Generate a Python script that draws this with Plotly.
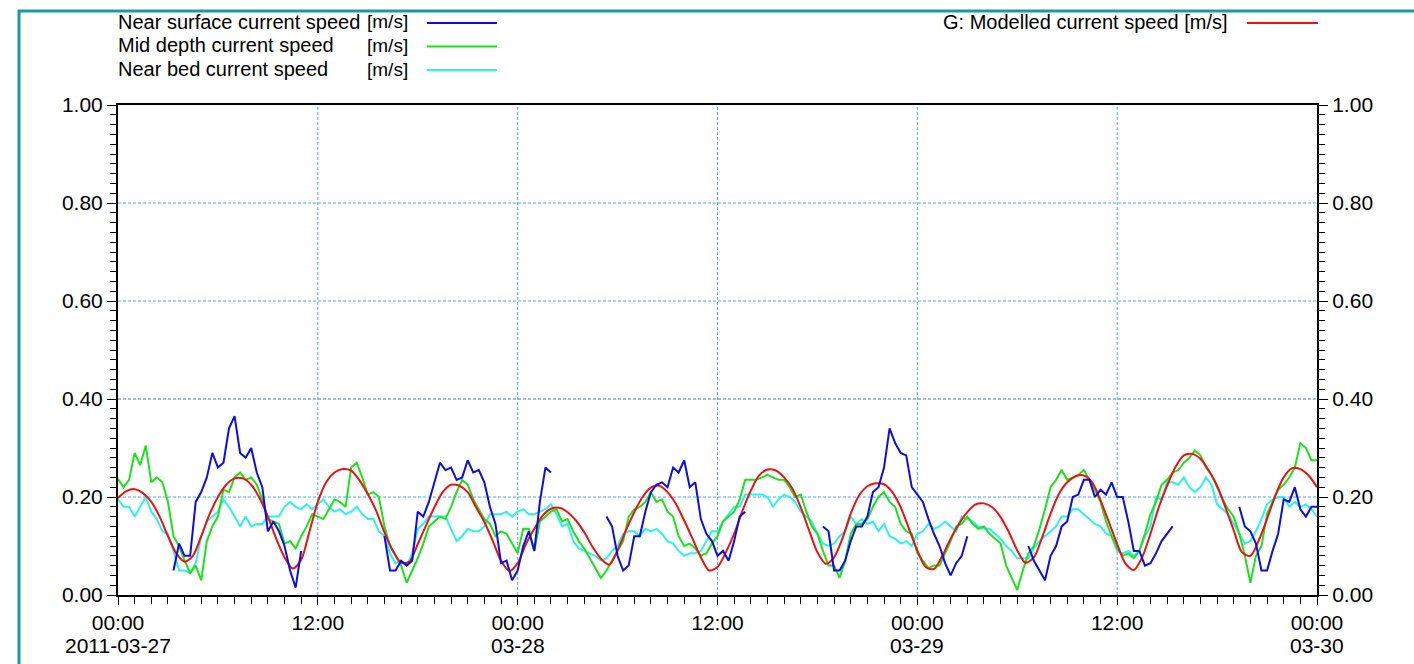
import pandas as pd
import plotly.graph_objects as go

# ---------------------------------------------------------------------------
# Data: current speeds [m/s], 2011-03-27 00:00 .. 2011-03-30 00:00
# Measured series every 20 minutes, modelled series every 30 minutes.
# ---------------------------------------------------------------------------
START = "2011-03-27 00:00"
END = "2011-03-30 00:00"

near_surface = (
    [None] * 10 + [0.05, 0.105]
    + [0.08, 0.08, 0.19, 0.21, 0.24, 0.29, 0.26, 0.27, 0.34, 0.365, 0.29, 0.28]
    + [0.30, 0.25, 0.22, 0.13, 0.15, 0.13, 0.10, 0.05, 0.015, 0.09, None, None]
    + [None] * 12
    + [0.12, 0.05, 0.05, 0.07, 0.06, 0.07, 0.17, 0.16, 0.19, 0.23, 0.27, 0.255]
    + [0.26, 0.235, 0.24, 0.275, 0.25, 0.255, 0.23, 0.18, 0.145, 0.065, 0.07, 0.03]
    + [0.05, 0.10, 0.13, 0.09, 0.19, 0.26, 0.25] + [None] * 5
    + [None] * 4 + [0.16, 0.14, 0.08, 0.05, 0.06, 0.12, 0.12, 0.17]
    + [0.21, 0.225, 0.23, 0.22, 0.26, 0.25, 0.275, 0.22, 0.23, 0.155, 0.125, 0.11]
    + [0.08, 0.09, 0.07, 0.11, 0.16, 0.17] + [None] * 6
    + [None] * 7 + [0.14, 0.13, 0.05, 0.05, 0.07]
    + [0.11, 0.14, 0.14, 0.16, 0.21, 0.22, 0.26, 0.34, 0.31, 0.29, 0.285, 0.22]
    + [0.205, 0.19, 0.155, 0.125, 0.10, 0.065, 0.04, 0.065, 0.08, 0.12, None, None]
    + [None] * 8 + [0.10, 0.07, 0.05, 0.03]
    + [0.08, 0.10, 0.14, 0.15, 0.20, 0.205, 0.235, 0.235, 0.20, 0.215, 0.205, 0.23]
    + [0.20, 0.20, 0.15, 0.09, 0.09, 0.06, 0.065, 0.085, 0.11, 0.125, 0.14, None]
    + [None] * 10 + [0.18, 0.14]
    + [0.13, 0.105, 0.05, 0.05, 0.09, 0.125, 0.195, 0.19, 0.22, 0.175, 0.16, 0.18]
    + [0.18]
)

mid_depth = [
    0.237, 0.22, 0.235, 0.29, 0.265, 0.305, 0.23, 0.24, 0.23, 0.19, 0.12, 0.10,
    0.07, 0.045, 0.06, 0.03, 0.11, 0.14, 0.16, 0.215, 0.21, 0.24, 0.25, 0.235,
    0.24, 0.225, 0.195, 0.155, 0.15, 0.145, 0.105, 0.11, 0.095, 0.12, 0.14, 0.165,
    0.16, 0.155, 0.175, 0.195, 0.19, 0.18, 0.26, 0.27, 0.24, 0.205, 0.21, 0.20,
    0.14, 0.10, 0.08, 0.06, 0.025, 0.05, 0.075, 0.105, 0.14, 0.15, 0.16, 0.155,
    0.18, 0.21, 0.235, 0.225, 0.195, 0.175, 0.155, 0.145, 0.12, 0.13, 0.125, 0.105,
    0.085, 0.135, 0.135, 0.09, 0.15, 0.16, 0.17, 0.175, 0.15, 0.155, 0.13, 0.11,
    0.095, 0.075, 0.055, 0.035, 0.05, 0.07, 0.09, 0.11, 0.16, 0.175, 0.18, 0.19,
    0.21, 0.19, 0.195, 0.17, 0.16, 0.12, 0.10, 0.105, 0.095, 0.08, 0.085, 0.105,
    0.12, 0.15, 0.16, 0.17, 0.195, 0.235, 0.235, 0.235, 0.24, 0.245, 0.24, 0.235,
    0.235, 0.22, 0.20, 0.205, 0.17, 0.14, 0.125, 0.09, 0.06, 0.06, 0.035, 0.07,
    0.125, 0.145, 0.145, 0.155, 0.18, 0.20, 0.21, 0.19, 0.18, 0.145, 0.13, 0.125,
    0.085, 0.07, 0.055, 0.06, 0.06, 0.085, 0.11, 0.14, 0.145, 0.16, 0.145, 0.135,
    0.14, 0.125, 0.115, 0.105, 0.06, 0.035, 0.01, 0.05, 0.085, 0.10, 0.135, 0.175,
    0.22, 0.235, 0.255, 0.235, 0.24, 0.245, 0.255, 0.235, 0.215, 0.19, 0.15, 0.12,
    0.095, 0.08, 0.085, 0.075, 0.09, 0.125, 0.165, 0.19, 0.225, 0.235, 0.25, 0.255,
    0.27, 0.28, 0.295, 0.285, 0.26, 0.245, 0.22, 0.195, 0.175, 0.16, 0.125, 0.08,
    0.025, 0.08, 0.10, 0.165, 0.19, 0.215, 0.225, 0.24, 0.26, 0.31, 0.30, 0.275,
    0.275,
]

near_bed = [
    0.195, 0.18, 0.18, 0.16, 0.18, 0.2, 0.17, 0.155, 0.13, 0.125, 0.09, 0.05,
    0.05, 0.045, 0.065, 0.12, 0.15, 0.16, 0.17, 0.195, 0.18, 0.16, 0.14, 0.16,
    0.14, 0.145, 0.145, 0.16, 0.16, 0.16, 0.18, 0.19, 0.18, 0.175, 0.185, 0.175,
    0.185, 0.195, 0.18, 0.17, 0.175, 0.165, 0.17, 0.18, 0.165, 0.155, 0.155, 0.13,
    0.12, 0.085, 0.065, 0.07, 0.06, 0.085, 0.135, 0.145, 0.16, 0.16, 0.16, 0.16,
    0.135, 0.11, 0.12, 0.135, 0.13, 0.13, 0.14, 0.165, 0.165, 0.165, 0.17, 0.16,
    0.17, 0.175, 0.165, 0.165, 0.17, 0.175, 0.185, 0.165, 0.14, 0.145, 0.11, 0.095,
    0.09, 0.085, 0.08, 0.07, 0.075, 0.09, 0.10, 0.125, 0.13, 0.13, 0.12, 0.135,
    0.13, 0.135, 0.125, 0.11, 0.105, 0.09, 0.08, 0.085, 0.085, 0.09, 0.11, 0.13,
    0.13, 0.15, 0.165, 0.18, 0.18, 0.205, 0.205, 0.205, 0.205, 0.2, 0.18, 0.195,
    0.205, 0.2, 0.19, 0.17, 0.16, 0.15, 0.125, 0.105, 0.10, 0.105, 0.12, 0.13,
    0.16, 0.145, 0.155, 0.145, 0.15, 0.13, 0.145, 0.12, 0.115, 0.105, 0.11, 0.10,
    0.125, 0.13, 0.145, 0.135, 0.14, 0.15, 0.14, 0.13, 0.16, 0.155, 0.15, 0.14,
    0.135, 0.135, 0.125, 0.115, 0.10, 0.09, 0.075, 0.075, 0.075, 0.095, 0.11, 0.12,
    0.13, 0.14, 0.16, 0.16, 0.175, 0.175, 0.165, 0.155, 0.145, 0.14, 0.125, 0.12,
    0.09, 0.085, 0.09, 0.08, 0.09, 0.12, 0.14, 0.2, 0.195, 0.23, 0.23, 0.225,
    0.24, 0.22, 0.21, 0.22, 0.24, 0.225, 0.185, 0.175, 0.165, 0.145, 0.125, 0.105,
    0.11, 0.13, 0.155, 0.185, 0.195, 0.2, 0.2, 0.18, 0.19, 0.18, 0.185, 0.175,
    0.16,
]

modelled = [
    0.198, 0.212, 0.216, 0.208, 0.19, 0.16, 0.12, 0.085,
    0.068, 0.08, 0.12, 0.165, 0.2, 0.225, 0.238, 0.238,
    0.225, 0.198, 0.16, 0.115, 0.077, 0.054, 0.072, 0.13,
    0.19, 0.23, 0.25, 0.257, 0.254, 0.234, 0.206, 0.172,
    0.128, 0.091, 0.066, 0.068, 0.104, 0.142, 0.179, 0.21,
    0.225, 0.223, 0.21, 0.179, 0.149, 0.111, 0.07, 0.049,
    0.065, 0.104, 0.135, 0.162, 0.176, 0.178, 0.169, 0.152,
    0.128, 0.098, 0.074, 0.062, 0.091, 0.132, 0.169, 0.2,
    0.219, 0.223, 0.21, 0.186, 0.152, 0.115, 0.077, 0.05,
    0.057, 0.087, 0.125, 0.172, 0.213, 0.244, 0.256, 0.254,
    0.24, 0.217, 0.179, 0.132, 0.087, 0.064, 0.077, 0.115,
    0.166, 0.203, 0.222, 0.228, 0.226, 0.21, 0.179, 0.135,
    0.091, 0.057, 0.053, 0.08, 0.115, 0.145, 0.169, 0.185,
    0.187, 0.179, 0.159, 0.128, 0.091, 0.066, 0.077, 0.118,
    0.166, 0.206, 0.23, 0.242, 0.244, 0.23, 0.193, 0.149,
    0.104, 0.064, 0.051, 0.077, 0.125, 0.179, 0.223, 0.261,
    0.285, 0.288, 0.278, 0.254, 0.223, 0.179, 0.132, 0.087,
    0.08, 0.111, 0.155, 0.203, 0.24, 0.259, 0.257, 0.244,
    0.22,
]

x_tick_times = ["2011-03-27 00:00", "2011-03-27 12:00", "2011-03-28 00:00",
                "2011-03-28 12:00", "2011-03-29 00:00", "2011-03-29 12:00",
                "2011-03-30 00:00"]
x_tick_text = ["00:00", "12:00", "00:00", "12:00", "00:00", "12:00", "00:00"]
date_labels = {"2011-03-27 00:00": "2011-03-27", "2011-03-28 00:00": "03-28",
               "2011-03-29 00:00": "03-29", "2011-03-30 00:00": "03-30"}
y_tick_vals = [0.0, 0.2, 0.4, 0.6, 0.8, 1.0]

legend_rows = [
    ("Near surface current speed", "#0c0ce6"),
    ("Mid depth current speed", "#1ee11e"),
    ("Near bed current speed", "#2ff0f0"),
]
model_label = "G: Modelled current speed [m/s]"
unit_label = "[m/s]"

# ---------------------------------------------------------------------------
t_meas = pd.date_range(START, periods=len(mid_depth), freq="20min")
t_model = pd.date_range(START, periods=len(modelled), freq="30min")

BLUE, GREEN, CYAN = (c for _, c in legend_rows)
RED = "#ee1111"
FONT = "Liberation Sans, Arial, sans-serif"
GRID = "#4fa6ff"
GRID_DARK = "#3a78d0"
DASH = "3px,2px"

W, H = 1414, 664
L, R, T, B = 118, 1317, 105, 595  # plot-area box in pixels


def px(x):
    return (x - L) / (R - L)


def py(y):
    return (B - y) / (B - T)


fig = go.Figure()
fig.add_trace(go.Scatter(x=t_meas, y=near_bed, mode="lines",
                         line=dict(color=CYAN, width=2), showlegend=False))
fig.add_trace(go.Scatter(x=t_meas, y=mid_depth, mode="lines",
                         line=dict(color=GREEN, width=2), showlegend=False))
fig.add_trace(go.Scatter(x=t_model, y=modelled, mode="lines",
                         line=dict(color=RED, width=2, shape="spline", smoothing=0.8),
                         showlegend=False))
fig.add_trace(go.Scatter(x=t_meas, y=near_surface, mode="lines", yaxis="y2",
                         line=dict(color=BLUE, width=2), connectgaps=False,
                         showlegend=False))

tickfont = dict(family=FONT, size=21, color="black")
yaxis_common = dict(
    range=[0, 1], tickmode="array", tickvals=y_tick_vals, tickformat=".2f",
    ticks="outside", ticklen=9, tickwidth=1, tickcolor="black",
    minor=dict(dtick=0.02, tick0=0, ticks="outside", ticklen=6,
               tickwidth=1, tickcolor="black", showgrid=False),
    showline=True, linecolor="black", linewidth=2, zeroline=False,
    showgrid=False, tickfont=tickfont, fixedrange=True, automargin=False,
)

fig.update_layout(
    width=W, height=H,
    margin=dict(l=L, r=W - R, t=T, b=H - B, autoexpand=False),
    paper_bgcolor="white", plot_bgcolor="white",
    font=dict(family=FONT, color="black"),
    xaxis=dict(
        type="date", range=[START, END], tickmode="array",
        tickvals=x_tick_times, ticktext=x_tick_text,
        ticks="outside", ticklen=8, tickwidth=1, tickcolor="black",
        minor=dict(dtick=3600000, tick0=START, ticks="outside", ticklen=7,
                   tickwidth=1, tickcolor="black", showgrid=False),
        showgrid=False, showline=True, linecolor="black", linewidth=2,
        mirror=True, zeroline=False, tickfont=tickfont, automargin=False,
    ),
    yaxis=dict(side="left", **yaxis_common),
    yaxis2=dict(side="right", overlaying="y", **yaxis_common),
)

# dotted grid: vertical at the interior 12-hour ticks, horizontal at 0.2 steps
for t in x_tick_times[1:-1]:
    fig.add_shape(type="line", xref="x", yref="paper", x0=t, x1=t, y0=0, y1=1,
                  line=dict(color=GRID, width=1, dash=DASH), layer="below")
for v in y_tick_vals[1:-1]:
    fig.add_shape(type="line", xref="paper", yref="y", x0=0, x1=1, y0=v, y1=v,
                  line=dict(color=GRID_DARK if v == 0.4 else GRID, width=1,
                            dash=DASH), layer="below")

# date line beneath the midnight tick labels
for t, label in date_labels.items():
    fig.add_annotation(x=t, y=py(645), xref="x", yref="paper", text=label,
                       showarrow=False, xanchor="center", yanchor="middle",
                       font=tickfont)

# legend drawn as text + line samples above the plot area
legend_font = dict(family=FONT, size=20, color="black")
unit_font = dict(family=FONT, size=19, color="black")
row_y = [22, 45.5, 69]
for (name, color), yy in zip(legend_rows, row_y):
    fig.add_annotation(x=px(116), y=py(yy), xref="paper", yref="paper",
                       text=name, showarrow=False, xanchor="left",
                       yanchor="middle", font=legend_font)
    fig.add_annotation(x=px(410), y=py(yy), xref="paper", yref="paper",
                       text=unit_label, showarrow=False, xanchor="right",
                       yanchor="middle", font=unit_font)
    fig.add_shape(type="line", xref="paper", yref="paper",
                  x0=px(427), x1=px(497), y0=py(yy + 1), y1=py(yy + 1),
                  line=dict(color=color, width=2))

fig.add_annotation(x=px(941), y=py(22), xref="paper", yref="paper",
                   text=model_label, showarrow=False, xanchor="left",
                   yanchor="middle", font=legend_font)
fig.add_shape(type="line", xref="paper", yref="paper",
              x0=px(1247), x1=px(1318), y0=py(23), y1=py(23),
              line=dict(color=RED, width=2))

# teal frame along the top and left edges of the page
FRAME = "#1a9aa5"
fig.add_shape(type="line", xref="paper", yref="paper",
              x0=px(19), x1=px(19), y0=py(10), y1=py(H + 10),
              line=dict(color=FRAME, width=3))
fig.add_shape(type="line", xref="paper", yref="paper",
              x0=px(18), x1=px(W + 10), y0=py(11), y1=py(11),
              line=dict(color=FRAME, width=3))

fig.write_html("out.html", config={"displayModeBar": False})
